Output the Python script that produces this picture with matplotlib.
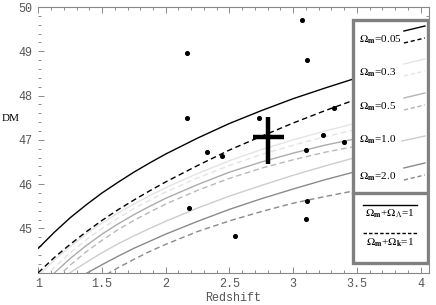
import matplotlib
matplotlib.use('Agg')
import matplotlib.pyplot as plt
from matplotlib.patches import Rectangle
from matplotlib.ticker import MultipleLocator

# curve samples
z_grid = [1.0, 1.125, 1.25, 1.375, 1.5, 1.625, 1.75, 1.875, 2.0,
          2.25, 2.5, 2.75, 3.0, 3.25, 3.5, 3.75, 4.0]
dm_005_lam = [44.55, 44.91, 45.24, 45.53, 45.80, 46.04, 46.27, 46.48, 46.68,
              47.04, 47.37, 47.66, 47.93, 48.17, 48.40, 48.61, 48.81]
dm_005_k = [44.00, 44.34, 44.64, 44.92, 45.18, 45.42, 45.64, 45.85, 46.05,
            46.42, 46.77, 47.08, 47.38, 47.66, 47.92, 48.17, 48.41]
dm_03_lam = [43.93, 44.28, 44.59, 44.87, 45.12, 45.34, 45.55, 45.74, 45.92,
             46.24, 46.53, 46.78, 47.00, 47.20, 47.38, 47.55, 47.70]
dm_03_k = [43.75, 44.12, 44.45, 44.74, 45.00, 45.23, 45.45, 45.64, 45.82,
           46.14, 46.42, 46.67, 46.88, 47.07, 47.24, 47.39, 47.52]
dm_05_lam = [43.62, 43.99, 44.32, 44.61, 44.87, 45.10, 45.31, 45.50, 45.68,
             45.99, 46.27, 46.50, 46.70, 46.88, 47.03, 47.17, 47.29]
dm_05_k = [43.45, 43.83, 44.17, 44.47, 44.73, 44.97, 45.18, 45.37, 45.55,
           45.86, 46.13, 46.36, 46.55, 46.72, 46.86, 46.99, 47.10]
dm_10 = [43.46, 43.74, 44.00, 44.23, 44.45, 44.65, 44.83, 45.00, 45.16,
         45.46, 45.73, 45.97, 46.20, 46.41, 46.61, 46.79, 46.97]
dm_20_lam = [43.23, 43.50, 43.75, 43.98, 44.18, 44.37, 44.55, 44.71, 44.87,
             45.16, 45.43, 45.67, 45.89, 46.10, 46.29, 46.48, 46.65]
dm_20_k = [42.74, 43.09, 43.39, 43.66, 43.90, 44.11, 44.30, 44.48, 44.64,
           44.93, 45.17, 45.38, 45.57, 45.72, 45.86, 45.98, 46.09]

# supernova points
sn_z = [2.17, 2.17, 2.18, 2.32, 2.44, 2.54, 2.73, 3.07, 3.105, 3.10, 3.10, 3.11, 3.235, 3.32, 3.40]
sn_dm = [48.96, 47.49, 45.46, 46.72, 46.64, 44.83, 47.49, 49.71, 48.80, 46.77, 45.22, 45.61, 47.12, 47.72, 46.96]

# the big cross
big_z = 2.806
big_dm = 47.07
big_zerr = 0.12
big_dmerr = [[0.62], [0.45]]

legend_labels = ['0.05', '0.3', '0.5', '1.0', '2.0']
legend_colors = ['black', '#e4e4e4', '#b4b4b4', '#cdcdcd', '#8a8a8a']

plt.rcParams['mathtext.fontset'] = 'stix'

fig = plt.figure(figsize=(4.36, 3.05), dpi=100)
ax = fig.add_axes([0.0878, 0.106, 0.896, 0.871])

curves = [
    (dm_20_k, '#8a8a8a', '--'), (dm_20_lam, '#8a8a8a', '-'),
    (dm_10, '#cdcdcd', '-'),
    (dm_05_k, '#b8b8b8', '--'), (dm_05_lam, '#acacac', '-'),
    (dm_03_k, '#e4e4e4', '--'), (dm_03_lam, '#e4e4e4', '-'),
    (dm_005_k, 'black', '--'), (dm_005_lam, 'black', '-'),
]
for dm, col, ls in curves:
    ax.plot(z_grid, dm, color=col, ls=ls, lw=1.0, dashes=(4, 2.5) if ls == '--' else (None, None))

ax.scatter(sn_z, sn_dm, s=7, color='black', zorder=5)
ax.errorbar(big_z, big_dm, xerr=big_zerr, yerr=big_dmerr, fmt='none', ecolor='black',
            elinewidth=3.2, capsize=0, zorder=6)

ax.set_xlim(1, 4.065)
ax.set_ylim(44, 50)
ax.xaxis.set_major_locator(MultipleLocator(0.5))
ax.xaxis.set_minor_locator(MultipleLocator(0.1))
ax.yaxis.set_major_locator(MultipleLocator(1))
ax.yaxis.set_minor_locator(MultipleLocator(0.2))
ax.set_xticks([1, 1.5, 2, 2.5, 3, 3.5, 4])
ax.set_xticklabels(['1', '1.5', '2', '2.5', '3', '3.5', '4'])
ax.set_yticks([45, 46, 47, 48, 49, 50])
ax.set_yticklabels(['45', '46', '47', '48', '49', '50'])
ax.tick_params(which='both', direction='in', top=True, right=True, color='#777777',
               labelcolor='#555555', labelsize=8.5, width=0.6)
ax.tick_params(which='major', length=4, pad=4)
ax.tick_params(which='minor', length=2)
for lab in ax.get_xticklabels() + ax.get_yticklabels():
    lab.set_family('Liberation Mono')
for side in ['top', 'right', 'bottom']:
    ax.spines[side].set_color('#888888')
    ax.spines[side].set_linewidth(0.8)
ax.spines['left'].set_visible(False)

ax.set_xlabel('Redshift', family='Liberation Mono', fontsize=8.5, color='#555555', labelpad=1)
fig.text(0.004, 0.613, 'DM', family='Liberation Serif', fontsize=8, va='center', ha='left')

# legend box drawn in axes fraction
def fx(px):
    return (px - 38.3) / (429 - 38.3)

def fy(py):
    return (272.7 - py) / (272.7 - 7)

box = Rectangle((fx(353), fy(263)), fx(428) - fx(353), fy(20) - fy(263), transform=ax.transAxes,
                facecolor='white', edgecolor='#808080', lw=2.4, zorder=10)
ax.add_patch(box)
ax.plot([fx(353), fx(428)], [fy(193), fy(193)], transform=ax.transAxes, color='#808080', lw=2.4, zorder=11)

row_y = [40, 73, 107, 140, 177]
for lab, col, py in zip(legend_labels, legend_colors, row_y):
    ax.text(fx(359), fy(py), r'$\Omega_{\mathbf{m}}$=' + lab, transform=ax.transAxes,
            fontsize=8, family='Liberation Serif', va='center', ha='left', zorder=12)
    if lab == '1.0':
        ax.plot([fx(402), fx(425)], [fy(py + 1), fy(py - 4)], transform=ax.transAxes,
                color=col, lw=1.0, zorder=12)
    else:
        ax.plot([fx(404), fx(425)], [fy(py - 9), fy(py - 14)], transform=ax.transAxes,
                color=col, lw=1.0, zorder=12)
        ax.plot([fx(404), fx(425)], [fy(py + 3), fy(py - 2)], transform=ax.transAxes,
                color=col, lw=1.0, ls='--', dashes=(3, 2), zorder=12)

ax.plot([fx(363), fx(417)], [fy(205), fy(205)], transform=ax.transAxes, color='black', lw=1.0, zorder=12)
ax.text(fx(390), fy(214), r'$\Omega_{\mathbf{m}}$+$\Omega_{\Lambda}$=1', transform=ax.transAxes,
        fontsize=8, family='Liberation Serif', va='center', ha='center', zorder=12)
ax.plot([fx(363), fx(417)], [fy(233), fy(233)], transform=ax.transAxes, color='black', lw=1.0,
        ls='--', dashes=(2.5, 1.5), zorder=12)
ax.text(fx(390), fy(243), r'$\Omega_{\mathbf{m}}$+$\Omega_{\mathbf{k}}$=1', transform=ax.transAxes,
        fontsize=8, family='Liberation Serif', va='center', ha='center', zorder=12)

fig.savefig('out.png', dpi=100)
